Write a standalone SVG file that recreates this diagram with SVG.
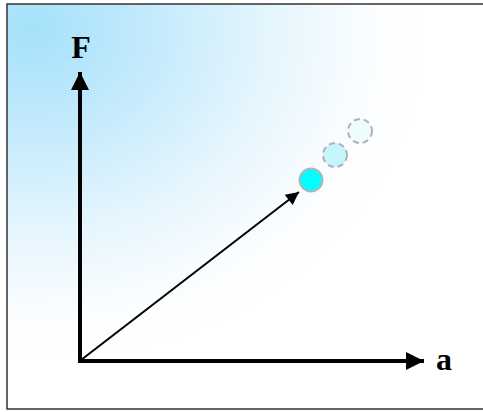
<svg xmlns="http://www.w3.org/2000/svg" width="483" height="412" viewBox="0 0 483 412">
<defs>
<radialGradient id="bg" cx="0.05" cy="0.06" r="0.82">
<stop offset="0" stop-color="#a5e1fb"/>
<stop offset="0.3" stop-color="#c3eafc"/>
<stop offset="0.6" stop-color="#e4f5fd"/>
<stop offset="0.85" stop-color="#fafdff"/>
<stop offset="1" stop-color="#ffffff"/>
</radialGradient>
<marker id="ah" viewBox="0 0 10 10" refX="10" refY="5" markerWidth="4.6" markerHeight="4.6" orient="auto" markerUnits="strokeWidth">
<path d="M0,0 L10,5 L0,10 Z" fill="#000"/>
</marker>
<marker id="ahs" viewBox="0 0 10 10" refX="10" refY="5" markerWidth="8" markerHeight="6.5" orient="auto" markerUnits="strokeWidth">
<path d="M0,0 L10,5 L0,10 Z" fill="#000"/>
</marker>
<style>
.lbl{font-family:"Liberation Serif",serif;font-weight:bold;font-size:32px;fill:#000}
.ghost{stroke:#b0b0b0;stroke-width:2;stroke-dasharray:6,4}
</style>
</defs>
<rect x="7" y="4" width="480" height="405" fill="url(#bg)" stroke="#333" stroke-width="1.5"/>
<g id="connectors">
<line x1="80" y1="362" x2="80" y2="72" stroke="#000" stroke-width="4" marker-end="url(#ah)"/>
<line x1="78" y1="361" x2="424" y2="361" stroke="#000" stroke-width="4" marker-end="url(#ah)"/>
<line x1="81" y1="360" x2="299" y2="192" stroke="#000" stroke-width="2" marker-end="url(#ahs)"/>
</g>
<g id="label-F"><text class="lbl" x="81" y="58" text-anchor="middle">F</text></g>
<g id="label-a"><text class="lbl" x="444" y="370" text-anchor="middle">a</text></g>
<g id="ball3"><circle cx="360" cy="131" r="12" fill="#effcfd" class="ghost"/></g>
<g id="ball2"><circle cx="335" cy="155" r="12" fill="#c4f6fb" class="ghost"/></g>
<g id="ball1"><circle cx="311" cy="180" r="11.5" fill="#00ffff" stroke="#b5b5b5" stroke-width="2"/></g>
</svg>
